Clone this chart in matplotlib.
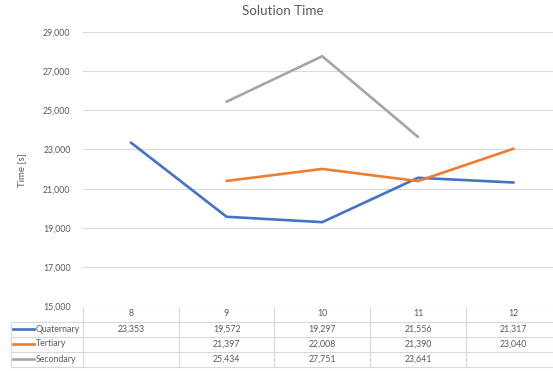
import numpy as np
import matplotlib
matplotlib.use("Agg")
import matplotlib.pyplot as plt
from matplotlib.lines import Line2D
from matplotlib.transforms import blended_transform_factory

plt.rcParams['font.family'] = ['Lato', 'DejaVu Sans']

categories = ["8", "9", "10", "11", "12"]
series_names = ["Quaternary", "Tertiary", "Secondary"]
quaternary = [23353, 19572, 19297, 21556, 21317]
tertiary = [None, 21397, 22008, 21390, 23040]
secondary = [None, 25434, 27751, 23641, None]
y_ticks = [15000, 17000, 19000, 21000, 23000, 25000, 27000, 29000]
title = "Solution Time"
y_label = "Time [s]"

colors = ["#4472C4", "#ED7D31", "#A5A5A5"]
text_color = "#595959"
grid_color = "#D9D9D9"

W, H = 553, 371
fig = plt.figure(figsize=(W / 100, H / 100), dpi=100)


def fx(px):
    return px / W


def fy(py):
    return 1 - py / H


# plot area in pixel terms (right edge runs past the canvas)
left_px, right_px, top_px, bottom_px = 83, 561.5, 31.7, 306.5
ax = fig.add_axes([fx(left_px), fy(bottom_px), fx(right_px - left_px), (bottom_px - top_px) / H])

x = np.arange(len(categories))
all_series = [quaternary, tertiary, secondary]
for vals, col in zip(all_series, colors):
    arr = np.array([np.nan if v is None else v for v in vals], dtype=float)
    ax.plot(x, arr, color=col, lw=1.9, solid_capstyle='round', zorder=3)

ax.set_xlim(-0.5, len(categories) - 0.5)
ax.set_ylim(y_ticks[0], y_ticks[-1])
ax.set_yticks(y_ticks)
ax.set_yticklabels([f"{t:,}" for t in y_ticks], fontsize=6.3, color=text_color)
ax.tick_params(axis='y', length=0, pad=9)
ax.set_xticks([])
ax.grid(axis='y', color=grid_color, lw=0.8, zorder=0)
for s in ax.spines.values():
    s.set_visible(False)
ax.set_facecolor('none')

fig.text(fx(283), fy(11), title, ha='center', va='center', fontsize=9.6, color=text_color)
fig.text(fx(22), fy(170), y_label, ha='center', va='center', rotation=90, fontsize=7,
         color=text_color)

# data table under the plot
trans = blended_transform_factory(ax.transData, fig.transFigure)
row_edges = [306.5, 321.5, 336.5, 351.5, 366.5]
table_left_px = 11
fs = 6.3

# vertical cell borders at category boundaries
for k in range(len(categories) + 1):
    fig.add_artist(Line2D([k - 0.5, k - 0.5], [fy(row_edges[0]), fy(row_edges[-1])],
                          transform=trans, color=grid_color, lw=0.8))
# horizontal borders
for r in row_edges[1:]:
    fig.add_artist(Line2D([fx(table_left_px), 1], [fy(r), fy(r)],
                          transform=fig.transFigure, color=grid_color, lw=0.8))
fig.add_artist(Line2D([fx(table_left_px)] * 2, [fy(row_edges[1]), fy(row_edges[-1])],
                      transform=fig.transFigure, color=grid_color, lw=0.8))

# header row with categories
hy = (row_edges[0] + row_edges[1]) / 2
for i, c in enumerate(categories):
    fig.text(i, fy(hy), c, transform=trans, ha='center', va='center', fontsize=fs,
             color=text_color)

# series rows
for j, (name, vals, col) in enumerate(zip(series_names, all_series, colors)):
    cy = (row_edges[j + 1] + row_edges[j + 2]) / 2
    fig.add_artist(Line2D([fx(13), fx(34)], [fy(cy), fy(cy)], transform=fig.transFigure,
                          color=col, lw=1.9))
    fig.text(fx(36), fy(cy), name, ha='left', va='center', fontsize=fs, color=text_color)
    for i, v in enumerate(vals):
        if v is not None:
            fig.text(i, fy(cy), f"{v:,}", transform=trans, ha='center', va='center',
                     fontsize=fs, color=text_color)

fig.savefig("out.png", dpi=100)
